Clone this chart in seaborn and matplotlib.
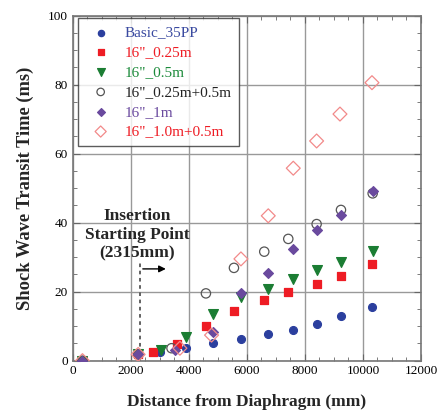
import matplotlib
matplotlib.use("Agg")
import matplotlib.pyplot as plt
from matplotlib.ticker import MultipleLocator
import seaborn as sns

# distance from diaphragm (mm) and transit time (ms) for each case
basic_x = [330, 2250, 3000, 3885, 4838, 5793, 6735, 7597, 8402, 9241, 10322]
basic_y = [0.0, 1.8, 2.6, 3.6, 5.0, 6.3, 7.6, 8.9, 10.7, 12.8, 15.6]

q25_x = [330, 2250, 2770, 3575, 4586, 5552, 6597, 7425, 8402, 9241, 10300]
q25_y = [0.0, 1.8, 2.6, 4.8, 9.9, 14.4, 17.6, 19.8, 22.3, 24.4, 27.9]

h05_x = [330, 2250, 3034, 3885, 4838, 5793, 6735, 7597, 8425, 9241, 10334]
h05_y = [0.0, 1.8, 3.0, 6.9, 13.4, 18.5, 20.9, 23.6, 26.2, 28.6, 31.8]

q25h05_x = [330, 2250, 3400, 4586, 5552, 6597, 7425, 8402, 9241, 10334]
q25h05_y = [0.0, 1.8, 3.6, 19.5, 26.9, 31.6, 35.3, 39.6, 43.7, 48.5]

m1_x = [330, 2250, 3517, 4838, 5793, 6735, 7597, 8402, 9241, 10334]
m1_y = [0.0, 1.8, 3.2, 8.2, 19.5, 25.5, 32.4, 37.9, 42.2, 49.2]

m1h05_x = [330, 2250, 3690, 4780, 5793, 6735, 7597, 8402, 9207, 10310]
m1h05_y = [0.0, 1.8, 3.6, 7.4, 29.5, 42.0, 55.8, 63.7, 71.5, 80.6]

labels = ['Basic_35PP', '16"_0.25m', '16"_0.5m', '16"_0.25m+0.5m', '16"_1m', '16"_1.0m+0.5m']

sns.set_style("ticks")
plt.rcParams['font.family'] = ['Liberation Serif', 'DejaVu Serif']

fig = plt.figure(figsize=(4.39, 4.15), dpi=100)
ax = fig.add_axes([0.166, 0.131, 0.793, 0.831])

series = [
    (basic_x, basic_y, 'o', '#2b3f9e', '#2b3f9e', 32),
    (q25_x, q25_y, 's', '#ee1c24', '#ee1c24', 30),
    (h05_x, h05_y, 'v', '#1b7d33', '#1b7d33', 50),
    (q25h05_x, q25h05_y, 'o', 'none', '#555555', 45),
    (m1_x, m1_y, 'D', '#6a4a9e', '#6a4a9e', 25),
    (m1h05_x, m1h05_y, 'D', 'none', '#f28a8a', 50),
]
text_colors = ['#3a4aa0', '#ee1c24', '#1b8a3a', '#222222', '#6a4a9e', '#ee1c24']

for (x, y, m, fc, ec, s), lab in zip(series, labels):
    sns.scatterplot(x=x, y=y, ax=ax, marker=m, s=s, facecolor=fc,
                    edgecolor=ec, linewidth=0.9, label=lab, zorder=3)

ax.set_xlim(0, 12000)
ax.set_ylim(0, 100)
ax.xaxis.set_major_locator(MultipleLocator(2000))
ax.xaxis.set_minor_locator(MultipleLocator(500))
ax.yaxis.set_major_locator(MultipleLocator(20))
ax.yaxis.set_minor_locator(MultipleLocator(5))
ax.grid(True, which='major', color='#999999', linewidth=1.0)
ax.tick_params(which='both', direction='in', top=True, right=True,
               colors='#666666', labelcolor='black', labelsize=9.5)
ax.tick_params(which='major', length=5)
ax.tick_params(which='minor', length=3)
for sp in ax.spines.values():
    sp.set_color('#777777')
    sp.set_linewidth(1.2)

ax.set_xlabel('Distance from Diaphragm (mm)', fontsize=12.5, fontweight='bold', labelpad=12)
ax.set_ylabel('Shock Wave Transit Time (ms)', fontsize=13.3, fontweight='bold', labelpad=10)

# insertion point marker
ax.plot([2315, 2315], [0, 28.3], ls=(0, (2, 2)), color='#555555', lw=1.3, zorder=2)
ax.annotate('', xy=(3300, 26.6), xytext=(2315, 26.6),
            arrowprops=dict(arrowstyle='-|>', color='black', lw=1.0), zorder=2)
ax.text(2207, 36.5, 'Insertion\nStarting Point\n(2315mm)', ha='center', va='center',
        fontsize=12.5, fontweight='bold', linespacing=1.2)

leg = ax.legend(loc='upper left', bbox_to_anchor=(0.014, 0.993), borderaxespad=0,
                frameon=True, fancybox=False, edgecolor='#333333', fontsize=11,
                handlelength=2.0, handletextpad=0.55, borderpad=0.5,
                labelspacing=0.4, markerscale=0.8)
leg.get_frame().set_linewidth(1.0)
for t, c in zip(leg.get_texts(), text_colors):
    t.set_color(c)

fig.savefig('out.png', dpi=100)
